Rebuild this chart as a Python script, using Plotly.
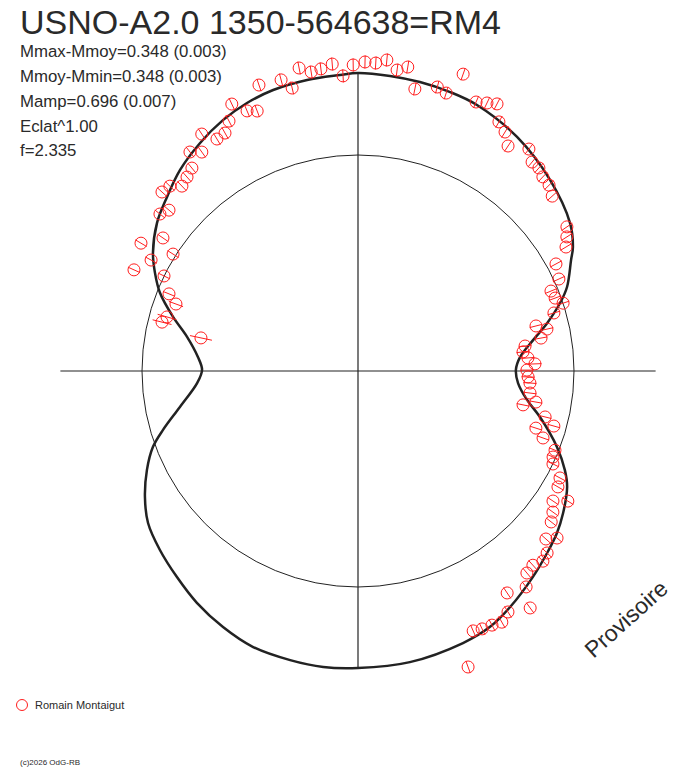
import numpy as np
import plotly.graph_objects as go

titre = "USNO-A2.0 1350-564638=RM4"
infos = ["Mmax-Mmoy=0.348 (0.003)", "Mmoy-Mmin=0.348 (0.003)",
         "Mamp=0.696 (0.007)", "Eclat^1.00", "f=2.335"]
observateur = "Romain Montaigut"
copyright = "(c)2026 OdG-RB"
mmax_moy = 0.348

# mesures : phase en degres (0 en haut, sens horaire), flux relatif (1 = Mmoy)
phase_obs = [1.3, 3.3, 5.3, 7.4, 9.3, 11.4, 15.6, 17.6, 19.5, 23.7,
             25.7, 27.5, 29.5, 31.6, 33.7, 37.6, 39.8, 41.7, 43.6, 45.8,
             48.0, 55.4, 57.3, 59.2, 61.6, 65.4, 67.5, 69.7, 71.7, 73.5,
             75.8, 77.5, 79.8, 81.5, 83.4, 85.6, 87.7, 89.7, 92.0, 94.0,
             97.3, 99.9, 101.6, 103.8, 105.7, 107.8, 109.9, 111.9, 113.8, 115.5,
             117.9, 120.1, 121.8, 123.7, 125.9, 128.0, 130.0, 131.8, 133.9, 135.8,
             138.0, 140.1, 142.1, 144.0, 146.1, 148.1, 150.2, 152.2, 154.3, 156.1,
             159.6, 281.9, 284.0, 285.8, 290.2, 292.2, 294.3, 296.1, 298.2, 300.5,
             302.3, 304.3, 308.4, 310.4, 312.4, 314.5, 316.4, 318.6, 320.7, 322.5,
             324.5, 326.6, 328.7, 330.8, 332.7, 334.7, 336.9, 338.8, 340.9, 345.2,
             346.9, 349.0, 351.1, 353.0, 355.2, 357.1, 359.1]
flux_obs = [1.431, 1.428, 1.446, 1.405, 1.426, 1.332, 1.365, 1.350, 1.458, 1.360,
            1.377, 1.394, 1.325, 1.299, 1.252, 1.297, 1.259, 1.259, 1.241, 1.234,
            1.210, 1.175, 1.149, 1.121, 1.042, 1.023, 0.967, 0.973, 1.000, 0.946,
            0.850, 0.896, 0.861, 0.782, 0.769, 0.789, 0.820, 0.782, 0.788, 0.798,
            0.803, 0.836, 0.780, 0.892, 0.942, 0.865, 0.911, 0.983, 0.987, 1.000,
            1.058, 1.070, 1.143, 1.085, 1.114, 1.135, 1.203, 1.167, 1.215, 1.228,
            1.210, 1.219, 1.267, 1.356, 1.238, 1.314, 1.340, 1.330, 1.325, 1.316,
            1.462, 0.743, 0.935, 0.919, 0.898, 0.945, 1.138, 1.000, 1.087, 1.166,
            1.013, 1.093, 1.170, 1.149, 1.229, 1.221, 1.182, 1.197, 1.214, 1.278,
            1.245, 1.314, 1.257, 1.262, 1.302, 1.367, 1.309, 1.291, 1.401, 1.394,
            1.345, 1.429, 1.401, 1.409, 1.426, 1.368, 1.417]
err_obs = [0.03] * len(phase_obs)
err_obs[71:75] = [0.052, 0.045, 0.045, 0.035]

# courbe ajustee
phase_fit = [0, 6.2, 12.1, 18.3, 24.1, 34.2, 45.2, 55.1, 60.0, 62.5,
             68.1, 71.4, 75.8, 80.0, 85.1, 89.6, 94.3, 99.7, 104.2, 110.9,
             115.6, 119.0, 124.7, 129.2, 133.9, 139.7, 147.2, 152.7, 158.9, 169.9,
             180, 186.7, 193.2, 200.8, 207.8, 214.8, 221.3, 227.9, 234.1, 239.4,
             244.9, 249.7, 253.2, 258.6, 265.7, 270.4, 275.0, 281.3, 286.3, 291.5,
             295.8, 299.9, 306.4, 312.3, 318.5, 325.3, 331.7, 337.5, 343.2, 350.1,
             356.5, 360]
flux_fit = [1.380, 1.374, 1.368, 1.360, 1.349, 1.310, 1.254, 1.197, 1.149, 1.112,
            1.043, 0.987, 0.903, 0.823, 0.753, 0.731, 0.743, 0.794, 0.869, 0.986,
            1.062, 1.107, 1.155, 1.188, 1.215, 1.251, 1.300, 1.333, 1.350, 1.369,
            1.375, 1.380, 1.375, 1.367, 1.340, 1.307, 1.270, 1.236, 1.200, 1.146,
            1.079, 1.012, 0.943, 0.841, 0.747, 0.722, 0.744, 0.807, 0.892, 0.985,
            1.044, 1.095, 1.156, 1.196, 1.243, 1.284, 1.319, 1.343, 1.359, 1.368,
            1.373, 1.380]


def polaire(phase, r):
    t = np.radians(np.asarray(phase, dtype=float))
    r = np.asarray(r, dtype=float)
    return r * np.sin(t), r * np.cos(t)


# la page ajoute une marge de 8 px autour du graphique
marge = 8
W, H = 688 - marge, 768 - marge
cx, cy, echelle = 358 - marge, 371 - marge, 216
rmax = 10 ** (0.4 * mmax_moy)
rouge = "#ff1e1e"
encre = "#222222"

xf, yf = polaire(phase_fit, flux_fit)
xo, yo = polaire(phase_obs, flux_obs)

# barres d'erreur radiales
xe, ye = [], []
for p, f, e in zip(phase_obs, flux_obs, err_obs):
    a, b = polaire([p, p], [f - e, f + e])
    xe += [a[0], a[1], None]
    ye += [b[0], b[1], None]

fig = go.Figure()
fig.add_trace(go.Scatter(x=xf, y=yf, mode="lines", line=dict(color=encre, width=2.5, shape="spline"),
                         hoverinfo="skip"))
fig.add_trace(go.Scatter(x=xe, y=ye, mode="lines", line=dict(color=rouge, width=1), hoverinfo="skip"))
fig.add_trace(go.Scatter(x=xo, y=yo, mode="markers",
                         marker=dict(symbol="circle-open", size=12, color=rouge, line=dict(width=1, color=rouge))))

# axes et cercle moyen
fig.add_shape(type="line", x0=-rmax, x1=rmax, y0=0, y1=0, line=dict(color=encre, width=1.2), layer="below")
fig.add_shape(type="line", x0=0, x1=0, y0=-rmax, y1=rmax, line=dict(color=encre, width=1.2), layer="below")
fig.add_shape(type="circle", x0=-1, x1=1, y0=-1, y1=1, line=dict(color=encre, width=1), layer="below")

police = "Liberation Sans, Arial, sans-serif"
gris = "#2a2a2a"


def px(x, y):
    return (x - marge) / W, 1 - (y - marge) / H


def texte(x, y, t, taille, **kw):
    ax, ay = px(x, y)
    opts = dict(xanchor="left", yanchor="middle")
    opts.update(kw)
    fig.add_annotation(x=ax, y=ay, text=t, showarrow=False, xref="paper", yref="paper",
                       font=dict(family=police, size=taille, color=gris), **opts)


texte(18, 22, titre, 34)
for i, t in enumerate(infos):
    texte(18, 51 + 25 * i, t, 16.8)

ax, ay = px(22, 705)
fig.add_shape(type="circle", xref="paper", yref="paper", xsizemode="pixel", ysizemode="pixel",
              xanchor=ax, yanchor=ay, x0=-5.5, x1=5.5, y0=-5.5, y1=5.5, line=dict(color=rouge, width=1))
texte(33, 705, observateur, 11)
texte(18, 762, copyright, 8)
texte(626, 619, "Provisoire", 23, xanchor="center", textangle=-42)

fig.update_layout(width=W, height=H, autosize=False, showlegend=False,
                  margin=dict(l=0, r=0, t=0, b=0),
                  paper_bgcolor="white", plot_bgcolor="white",
                  xaxis=dict(range=[-cx / echelle, (W - cx) / echelle], visible=False, fixedrange=True),
                  yaxis=dict(range=[-(H - cy) / echelle, cy / echelle], visible=False, fixedrange=True))

fig.write_html("out.html")
